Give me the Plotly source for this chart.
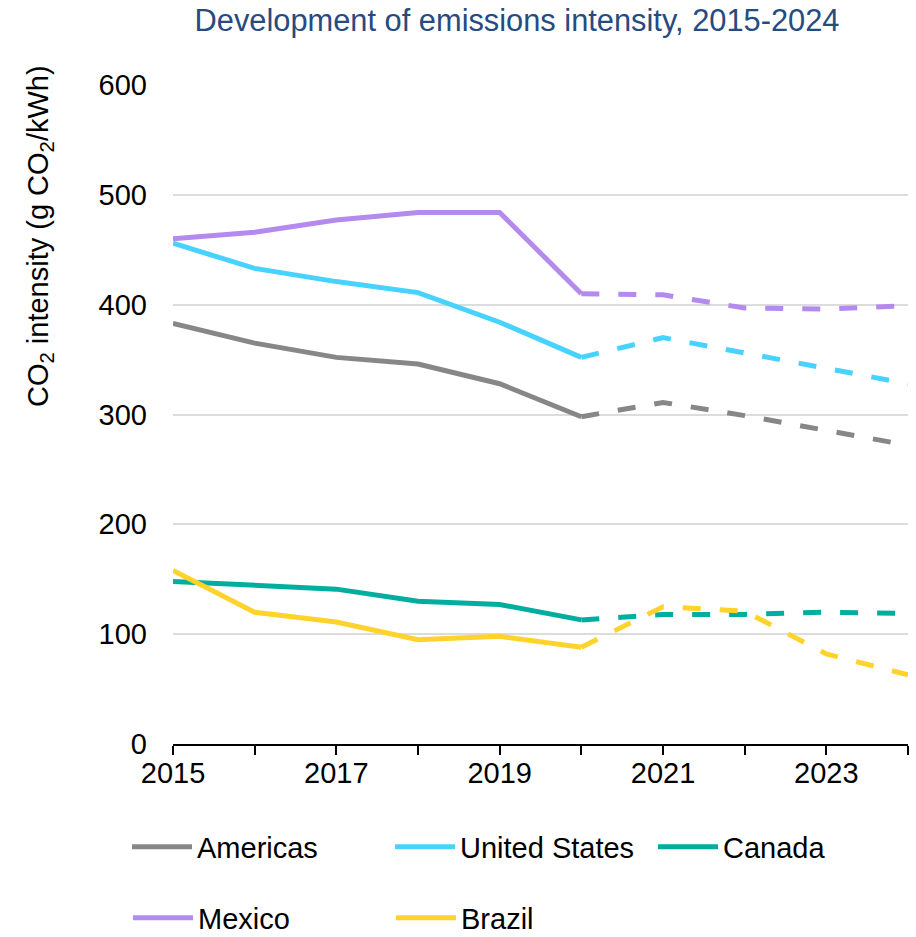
import plotly.graph_objects as go

years = [2015, 2016, 2017, 2018, 2019, 2020, 2021, 2022, 2023, 2024]
americas = [383, 365, 352, 346, 328, 298, 311, 299, 285, 272]
united_states = [456, 433, 421, 411, 384, 352, 370, 356, 342, 328]
canada = [148, 145, 141, 130, 127, 113, 118, 118, 120, 119]
mexico = [460, 466, 477, 484, 484, 410, 409, 397, 396, 399]
brazil = [158, 120, 111, 95, 98, 88, 125, 121, 82, 63]

series_names = ["Americas", "United States", "Canada", "Mexico", "Brazil"]
series_values = [americas, united_states, canada, mexico, brazil]
series_colors = ["#878787", "#48D2FF", "#00AE9F", "#B48AEE", "#FFD32B"]
series_legend = ["legend", "legend", "legend", "legend2", "legend2"]

x_tick_vals = [2015, 2017, 2019, 2021, 2023]
x_tick_text = ["2015", "2017", "2019", "2021", "2023"]
split_year = 2020

FONT = "Liberation Sans, Arial, sans-serif"

# plot area in pixels (for placing legends/annotation)
L, R, T, B = 173, 8, 85, 193
W, H = 916, 937
PW, PH = W - L - R, H - T - B

fig = go.Figure()
split_idx = years.index(split_year)
for name, vals, col, lg in zip(series_names, series_values, series_colors, series_legend):
    fig.add_trace(go.Scatter(
        x=years[:split_idx + 1], y=vals[:split_idx + 1], mode="lines", name=name,
        line=dict(color=col, width=5), legend=lg, showlegend=True, hoverinfo="x+y+name"))
    fig.add_trace(go.Scatter(
        x=years[split_idx:], y=vals[split_idx:], mode="lines", name=name,
        line=dict(color=col, width=5, dash="18px,19px"), legend=lg, showlegend=False,
        hoverinfo="x+y+name"))

legend_common = dict(orientation="h", xanchor="left", yanchor="middle",
                     entrywidth=188, itemwidth=60, traceorder="normal",
                     font=dict(family=FONT, size=29, color="black"),
                     bgcolor="rgba(0,0,0,0)")

fig.update_layout(
    width=W, height=H,
    margin=dict(l=L, r=R, t=T, b=B),
    plot_bgcolor="white", paper_bgcolor="white",
    font=dict(family=FONT, size=29, color="black"),
    title=dict(text="Development of emissions intensity, 2015-2024",
               x=517 / W, xanchor="center", xref="container",
               y=1 - 20 / H, yanchor="middle", yref="container",
               font=dict(family=FONT, size=30.8, color="#264B80")),
    xaxis=dict(range=[2015, 2024], tickvals=x_tick_vals, ticktext=x_tick_text,
               showline=True, linecolor="black", linewidth=2,
               ticks="outside", ticklen=9, tickwidth=2, tickcolor="black",
               minor=dict(dtick=1, tick0=2015, ticks="outside", ticklen=9,
                          tickwidth=2, tickcolor="black", showgrid=False),
               ticklabelstandoff=-7,
               showgrid=False, zeroline=False,
               tickfont=dict(family=FONT, size=29, color="black")),
    yaxis=dict(range=[0, 600], dtick=100, showline=False, ticks="",
               showgrid=True, gridcolor="#DCDCDC", gridwidth=2, zeroline=False,
               ticklabelstandoff=25,
               tickfont=dict(family=FONT, size=29, color="black")),
    legend=dict(legend_common, xref="paper", yref="paper",
                x=(128 - L) / PW, y=(H - B - 847) / PH),
    legend2=dict(legend_common, xref="container", yref="container",
                 x=128 / W, y=1 - 918 / H),
    showlegend=True,
)

fig.add_annotation(
    text="CO<sub>2</sub> intensity (g CO<sub>2</sub>/kWh)",
    xref="paper", yref="paper", x=-(L - 40) / PW, y=(H - B - 236) / PH,
    xanchor="center", yanchor="middle", textangle=-90, showarrow=False,
    font=dict(family=FONT, size=29, color="black"))

fig.write_html("out.html", config={"displayModeBar": False},
               post_script="document.body.style.margin='0';document.body.style.overflow='hidden';")
